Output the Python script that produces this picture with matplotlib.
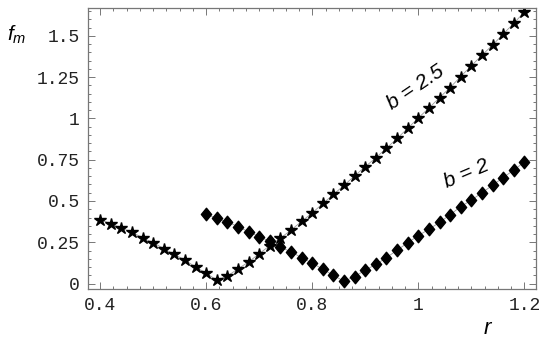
import numpy as np
import matplotlib
matplotlib.use("Agg")
import matplotlib.pyplot as plt
from matplotlib.path import Path
from matplotlib.ticker import MultipleLocator, FixedLocator

plt.rcParams['mathtext.fontset'] = 'custom'
plt.rcParams['mathtext.it'] = 'Liberation Sans:italic'
plt.rcParams['mathtext.rm'] = 'Liberation Sans'

# b = 2.5 series (stars), r from 0.40 to 1.20 step 0.02
r_star = [0.40, 0.42, 0.44, 0.46, 0.48, 0.50, 0.52, 0.54, 0.56, 0.58,
          0.60, 0.62, 0.64, 0.66, 0.68, 0.70, 0.72, 0.74, 0.76, 0.78,
          0.80, 0.82, 0.84, 0.86, 0.88, 0.90, 0.92, 0.94, 0.96, 0.98,
          1.00, 1.02, 1.04, 1.06, 1.08, 1.10, 1.12, 1.14, 1.16, 1.18, 1.20]
f_star = [0.386, 0.362, 0.335, 0.311, 0.277, 0.247, 0.212, 0.176, 0.142, 0.100,
          0.063, 0.020, 0.046, 0.089, 0.131, 0.181, 0.230, 0.275, 0.324, 0.377,
          0.428, 0.485, 0.540, 0.595, 0.653, 0.708, 0.762, 0.820, 0.879, 0.940,
          1.003, 1.063, 1.126, 1.187, 1.254, 1.319, 1.383, 1.444, 1.511, 1.576, 1.645]

# b = 2 series (diamonds), r from 0.60 to 1.20 step 0.02
r_diam = [0.60, 0.62, 0.64, 0.66, 0.68, 0.70, 0.72, 0.74, 0.76, 0.78,
          0.80, 0.82, 0.84, 0.86, 0.88, 0.90, 0.92, 0.94, 0.96, 0.98,
          1.00, 1.02, 1.04, 1.06, 1.08, 1.10, 1.12, 1.14, 1.16, 1.18, 1.20]
f_diam = [0.420, 0.394, 0.373, 0.345, 0.313, 0.284, 0.256, 0.220, 0.192, 0.157,
          0.123, 0.087, 0.049, 0.014, 0.042, 0.082, 0.116, 0.157, 0.202, 0.247,
          0.290, 0.329, 0.370, 0.417, 0.466, 0.505, 0.550, 0.595, 0.642, 0.687, 0.736]

x_ticks = [0.4, 0.6, 0.8, 1.0, 1.2]
x_ticklabels = ["0.4", "0.6", "0.8", "1", "1.2"]
y_ticks = [0, 0.25, 0.5, 0.75, 1.0, 1.25, 1.5]
y_ticklabels = ["0", "0.25", "0.5", "0.75", "1", "1.25", "1.5"]

fig = plt.figure(figsize=(5.45, 3.42), dpi=100)
ax = fig.add_axes([88/545, 1-288.5/342, 448/545, 281/342])

diamond = Path([(0, 1), (0.82, 0), (0, -1), (-0.82, 0), (0, 1)],
               [Path.MOVETO, Path.LINETO, Path.LINETO, Path.LINETO, Path.CLOSEPOLY])

ax.plot(r_star, f_star, color='#999999', lw=0.6, zorder=1)
ax.plot(r_star, f_star, ls='none', marker='*', ms=9, color='black', mec='black', zorder=2)
ax.plot(r_diam, f_diam, color='#999999', lw=0.6, zorder=1)
ax.plot(r_diam, f_diam, ls='none', marker=diamond, ms=9, color='black', mec='black', zorder=2)

ax.set_xlim(0.377, 1.222)
ax.set_ylim(-0.03, 1.672)

frame_col = '#777777'
for s in ax.spines.values():
    s.set_color(frame_col)
    s.set_linewidth(0.9)

ax.xaxis.set_major_locator(FixedLocator(x_ticks))
ax.set_xticklabels(x_ticklabels)
ax.yaxis.set_major_locator(FixedLocator(y_ticks))
ax.set_yticklabels(y_ticklabels)
ax.xaxis.set_minor_locator(MultipleLocator(0.025))
ax.yaxis.set_minor_locator(MultipleLocator(0.05))
ax.tick_params(which='both', direction='in', top=True, right=True, color=frame_col, width=0.7)
ax.tick_params(which='major', length=5)
ax.tick_params(which='minor', length=2.5)
ax.tick_params(axis='x', which='major', pad=6)
ax.tick_params(axis='y', which='major', pad=6)
for lab in ax.get_xticklabels() + ax.get_yticklabels():
    lab.set_fontfamily('Liberation Mono')
    lab.set_fontsize(13)
    lab.set_color('#222222')

ax.text(0.995, 1.19, 'b = 2.5', rotation=34, fontsize=15, style='italic',
        family='Liberation Sans', ha='center', va='center', rotation_mode='anchor')
ax.text(1.090, 0.665, 'b = 2', rotation=23, fontsize=15, style='italic',
        family='Liberation Sans', ha='center', va='center', rotation_mode='anchor')

fig.text(17/545, 1-35/342, r'$f_m$', fontsize=15, ha='center', va='center')
fig.text(488/545, 1-328/342, r'$r$', fontsize=16, ha='center', va='center')

fig.savefig('out.png', dpi=100)
